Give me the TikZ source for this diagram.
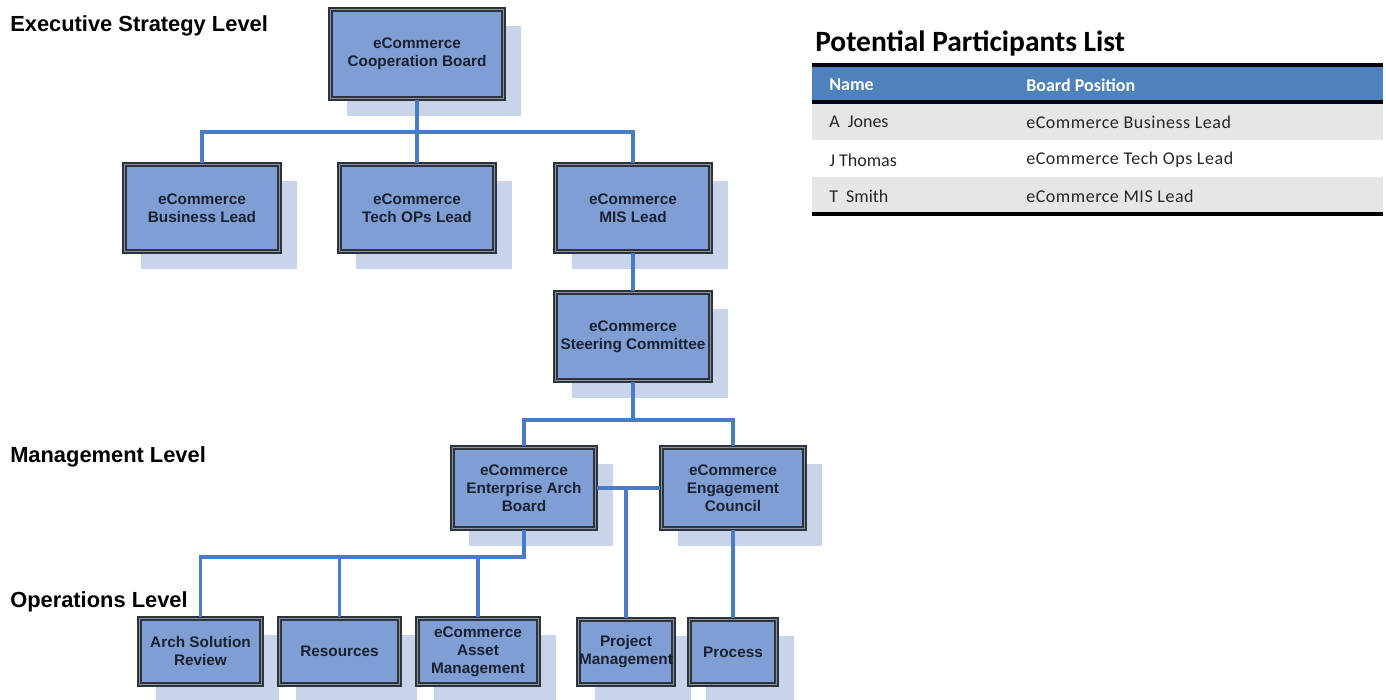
\documentclass[tikz,border=0pt]{standalone}
\usepackage{fontspec}
\setmainfont{Liberation Sans}
\newfontfamily\calib{Carlito}
\usetikzlibrary{shadows}
\definecolor{boxfill}{HTML}{7F9ED3}
\definecolor{boxline}{HTML}{2E323A}
\definecolor{boxmid}{HTML}{8A93A3}
\definecolor{shade}{HTML}{C7D4EA}
\definecolor{connc}{HTML}{4A7BC6}
\definecolor{hdr}{HTML}{4F81BD}
\definecolor{rowg}{HTML}{E6E6E6}
\definecolor{txt}{HTML}{1B2130}
\begin{document}
\begin{tikzpicture}[x=0.75pt,y=-0.75pt,
  box/.style 2 args={draw=boxline, line width=1.4pt, double=boxmid, double distance=0.7pt,
    fill=boxfill, text=txt, font=\fontsize{11.5}{13.5}\selectfont\bfseries, align=center,
    inner sep=0pt, minimum width=#1*0.75pt-3.5pt, minimum height=#2*0.75pt-3.5pt,
    drop shadow={shadow xshift=12.75pt, shadow yshift=-12.75pt, fill=shade, opacity=1}},
  conn/.style={draw=connc, line width=2.3pt},
  lvl/.style={anchor=west, inner sep=0pt, font=\fontsize{16.4}{18}\selectfont\bfseries, text=black},
  ttl/.style={anchor=west, inner sep=0pt, font=\calib\fontsize{22.1}{24}\selectfont\bfseries},
  th/.style={anchor=west, inner sep=0pt, text=white, font=\calib\fontsize{13.5}{15}\selectfont\bfseries},
  td/.style={anchor=west, inner sep=0pt, text=black!85, font=\calib\fontsize{13.5}{15}\selectfont},
  tdp/.style={td, font=\calib\fontsize{13.5}{15}\selectfont\addfontfeature{LetterSpace=3}},
  rule/.style={draw=black, line width=3pt}]
\useasboundingbox (0,0) rectangle (1386,700);
\begin{scope}
\clip (0,0) rectangle (1386,700);
% level labels
\node[lvl] (l1) at (10,26) {Executive Strategy Level};
\node[lvl] (l2) at (10,457) {Management Level};
\node[lvl] (l3) at (10,602) {Operations Level};
% boxes
\node[box={178}{94}] (coop) at (417,54) {eCommerce\\Cooperation Board};
\node[box={160}{92}] (bus) at (202,208) {eCommerce\\Business Lead};
\node[box={160}{92}] (tech) at (417,208) {eCommerce\\Tech OPs Lead};
\node[box={160}{92}] (mis) at (633,208) {eCommerce\\MIS Lead};
\node[box={160}{93}] (steer) at (633,336.5) {eCommerce\\Steering Committee};
\node[box={148}{86}] (ent) at (524,488) {eCommerce\\Enterprise Arch\\Board};
\node[box={148}{86}] (eng) at (733,488) {eCommerce\\Engagement\\Council};
\node[box={127}{71}] (arch) at (200.5,651.5) {Arch Solution\\Review};
\node[box={125}{71}] (res) at (339.5,651.5) {Resources};
\node[box={126}{71}] (asset) at (478,651.5) {eCommerce\\Asset\\Management};
\node[box={100}{70}] (proj) at (626,652) {Project\\Management};
\node[box={92}{70}] (proc) at (733,652) {Process};
% connectors
\coordinate (j1) at (417,132);
\draw[conn] (coop.south) -- (j1);
\draw[conn] (bus.north) |- (j1) -| (mis.north);
\draw[conn] (j1) -- (tech.north);
\draw[conn] (mis.south) -- (steer.north);
\coordinate (j2) at (633,420);
\draw[conn] (steer.south) -- (j2);
\draw[conn] (ent.north) |- (j2) -| (eng.north);
\draw[conn] (ent.east) -- (eng.west);
\coordinate (j3) at (626,488);
\draw[conn] (j3) -- (proj.north);
\draw[conn] (eng.south) -- (proc.north);
\coordinate (j4) at (524,557);
\coordinate (j5) at (339.5,557);
\draw[conn] (ent.south) -- (j4) -| (arch.north);
\draw[conn] (j5) -- (res.north);
\draw[conn] (asset.north) -- (asset.north |- j4);
% table
\node[ttl] (title) at (815,43) {Potential Participants List};
\fill[hdr] (812,66) rectangle (1383,102);
\fill[rowg] (812,103) rectangle (1383,140);
\fill[rowg] (812,177) rectangle (1383,212);
\draw[rule] (812,65) -- (1383,65);
\draw[rule] (812,102) -- (1383,102);
\draw[rule] (812,213.5) -- (1383,213.5);
\node[th] (hname) at (829,85) {Name};
\node[th] (hpos) at (1026,85) {Board Position};
\node[td] (n1) at (829,122) {A\ \ Jones};
\node[tdp] (p1) at (1026,122) {eCommerce Business Lead};
\node[td] (n2) at (829,160) {J Thomas};
\node[tdp] (p2) at (1026,160) {eCommerce Tech Ops Lead};
\node[td] (n3) at (829,196) {T\ \ Smith};
\node[tdp] (p3) at (1026,196) {eCommerce MIS Lead};
\end{scope}
\end{tikzpicture}
\end{document}
